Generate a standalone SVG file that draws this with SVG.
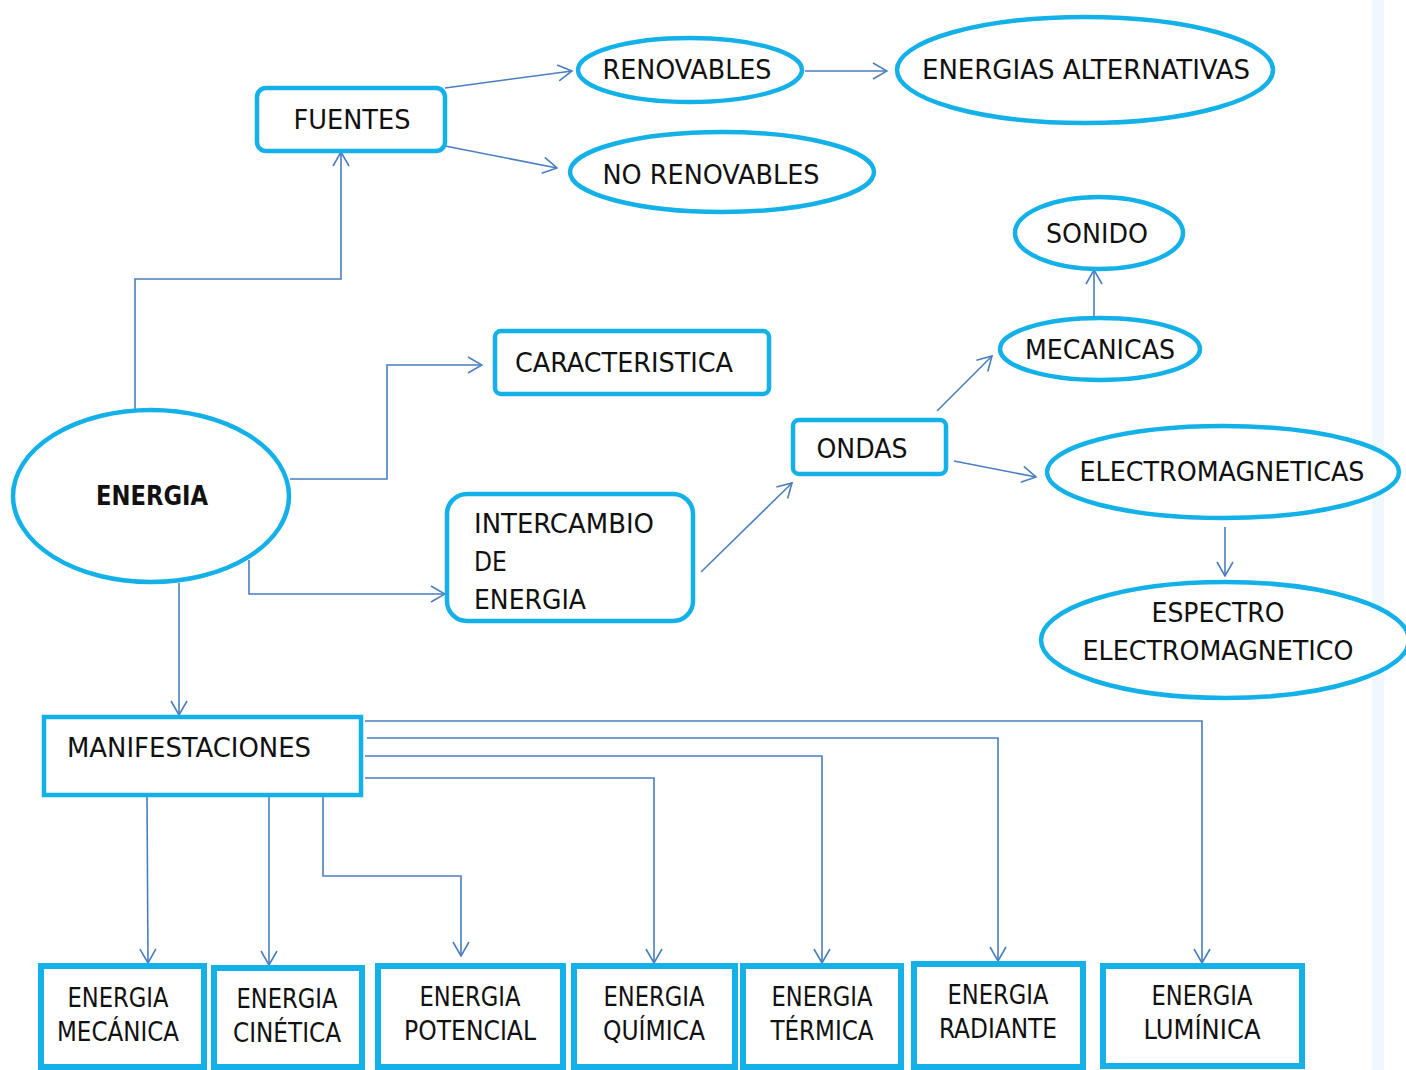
<svg xmlns="http://www.w3.org/2000/svg" width="1406" height="1070" viewBox="0 0 1406 1070">
<defs>
<style>
.n{fill:#fff;stroke:#13b1e7;stroke-width:4.5}
.b{fill:#fff;stroke:#13b1e7;stroke-width:6}
.t{font-family:"DejaVu Sans Condensed","DejaVu Sans",sans-serif;font-size:26px;fill:#111;font-stretch:condensed}
.c{fill:none;stroke:#4a7ebf;stroke-width:1.6}
</style>
<marker id="a" viewBox="0 0 16 18" markerWidth="16" markerHeight="18" refX="15" refY="9" orient="auto" markerUnits="userSpaceOnUse">
<path d="M1,1 L15,9 L1,17" fill="none" stroke="#4a7ebf" stroke-width="1.6"/>
</marker>
</defs>
<rect width="1406" height="1070" fill="#fff"/>
<rect x="1372" y="0" width="12" height="1070" fill="#f1f8fd"/>
<g id="connectors">
<path class="c" d="M135,410 V279 H341 V152" marker-end="url(#a)"/>
<path class="c" d="M445,88 L572,71" marker-end="url(#a)"/>
<path class="c" d="M445,146 L557,168" marker-end="url(#a)"/>
<path class="c" d="M805,71 L887,71" marker-end="url(#a)"/>
<path class="c" d="M290,479 H387 V365 H482" marker-end="url(#a)"/>
<path class="c" d="M249,560 V594 H445" marker-end="url(#a)"/>
<path class="c" d="M701,572 L792,483" marker-end="url(#a)"/>
<path class="c" d="M937,411 L992,356" marker-end="url(#a)"/>
<path class="c" d="M954,461 L1036,477" marker-end="url(#a)"/>
<path class="c" d="M1094,317 V270" marker-end="url(#a)"/>
<path class="c" d="M1225,527 V576" marker-end="url(#a)"/>
<path class="c" d="M179,583 V715" marker-end="url(#a)"/>
<path class="c" d="M147,797 L148,963" marker-end="url(#a)"/>
<path class="c" d="M269,795 V965" marker-end="url(#a)"/>
<path class="c" d="M323,795 V876 H461 V956" marker-end="url(#a)"/>
<path class="c" d="M365,778 H654 V963" marker-end="url(#a)"/>
<path class="c" d="M365,756 H822 V963" marker-end="url(#a)"/>
<path class="c" d="M367,738 H998 V961" marker-end="url(#a)"/>
<path class="c" d="M365,721 H1202 V963" marker-end="url(#a)"/>
</g>
<g id="fuentes"><rect class="n" x="257" y="88" width="188" height="63" rx="9"/><text class="t" x="352" y="129" text-anchor="middle" textLength="117" lengthAdjust="spacingAndGlyphs">FUENTES</text></g>
<g id="renovables"><ellipse class="n" cx="690" cy="70" rx="112" ry="32"/><text class="t" x="687" y="79" text-anchor="middle" textLength="169" lengthAdjust="spacingAndGlyphs">RENOVABLES</text></g>
<g id="alternativas"><ellipse class="n" cx="1085" cy="70" rx="188" ry="53"/><text class="t" x="1086" y="79" text-anchor="middle" textLength="328" lengthAdjust="spacingAndGlyphs">ENERGIAS ALTERNATIVAS</text></g>
<g id="norenovables"><ellipse class="n" cx="722" cy="172" rx="152" ry="40"/><text class="t" x="711" y="184" text-anchor="middle" textLength="217" lengthAdjust="spacingAndGlyphs">NO RENOVABLES</text></g>
<g id="sonido"><ellipse class="n" cx="1099" cy="233" rx="84" ry="36"/><text class="t" x="1097" y="243" text-anchor="middle" textLength="102" lengthAdjust="spacingAndGlyphs">SONIDO</text></g>
<g id="mecanicas"><ellipse class="n" cx="1100" cy="349" rx="100" ry="31"/><text class="t" x="1100" y="359" text-anchor="middle" textLength="150" lengthAdjust="spacingAndGlyphs">MECANICAS</text></g>
<g id="caracteristica"><rect class="n" x="495" y="331" width="274" height="63" rx="6"/><text class="t" x="624" y="372" text-anchor="middle" textLength="218" lengthAdjust="spacingAndGlyphs">CARACTERISTICA</text></g>
<g id="energia"><ellipse class="n" cx="151" cy="496" rx="138" ry="86"/><text class="t" x="152" y="505" text-anchor="middle" font-weight="bold" textLength="112" lengthAdjust="spacingAndGlyphs">ENERGIA</text></g>
<g id="ondas"><rect class="n" x="793" y="420" width="153" height="54" rx="6"/><text class="t" x="862" y="458" text-anchor="middle" textLength="91" lengthAdjust="spacingAndGlyphs">ONDAS</text></g>
<g id="electromagneticas"><ellipse class="n" cx="1223" cy="472" rx="176" ry="46"/><text class="t" x="1222" y="481" text-anchor="middle" textLength="285" lengthAdjust="spacingAndGlyphs">ELECTROMAGNETICAS</text></g>
<g id="intercambio"><rect class="n" x="447" y="494" width="246" height="127" rx="20"/><text class="t" x="474" y="533" textLength="180" lengthAdjust="spacingAndGlyphs">INTERCAMBIO</text><text class="t" x="474" y="571">DE</text><text class="t" x="474" y="609" textLength="112" lengthAdjust="spacingAndGlyphs">ENERGIA</text></g>
<g id="espectro"><ellipse class="n" cx="1225" cy="640" rx="184" ry="58"/><text class="t" x="1218" y="622" text-anchor="middle" textLength="133" lengthAdjust="spacingAndGlyphs">ESPECTRO</text><text class="t" x="1218" y="660" text-anchor="middle" textLength="271" lengthAdjust="spacingAndGlyphs">ELECTROMAGNETICO</text></g>
<g id="manifestaciones"><rect class="n" x="44" y="717" width="317" height="78"/><text class="t" x="189" y="757" text-anchor="middle" textLength="244" lengthAdjust="spacingAndGlyphs">MANIFESTACIONES</text></g>
<g id="mecanica"><rect class="b" x="41" y="966" width="163" height="101"/><text class="t" x="118" y="1007" text-anchor="middle" textLength="101" lengthAdjust="spacingAndGlyphs">ENERGIA</text><text class="t" x="118" y="1041" text-anchor="middle" textLength="122" lengthAdjust="spacingAndGlyphs">MECÁNICA</text></g>
<g id="cinetica"><rect class="b" x="214" y="968" width="148" height="99"/><text class="t" x="287" y="1008" text-anchor="middle" textLength="101" lengthAdjust="spacingAndGlyphs">ENERGIA</text><text class="t" x="287" y="1042" text-anchor="middle" textLength="108" lengthAdjust="spacingAndGlyphs">CINÉTICA</text></g>
<g id="potencial"><rect class="b" x="378" y="966" width="185" height="101"/><text class="t" x="470" y="1006" text-anchor="middle" textLength="101" lengthAdjust="spacingAndGlyphs">ENERGIA</text><text class="t" x="470" y="1040" text-anchor="middle" textLength="132" lengthAdjust="spacingAndGlyphs">POTENCIAL</text></g>
<g id="quimica"><rect class="b" x="574" y="966" width="161" height="101"/><text class="t" x="654" y="1006" text-anchor="middle" textLength="101" lengthAdjust="spacingAndGlyphs">ENERGIA</text><text class="t" x="654" y="1040" text-anchor="middle" textLength="102" lengthAdjust="spacingAndGlyphs">QUÍMICA</text></g>
<g id="termica"><rect class="b" x="743" y="966" width="158" height="101"/><text class="t" x="822" y="1006" text-anchor="middle" textLength="101" lengthAdjust="spacingAndGlyphs">ENERGIA</text><text class="t" x="822" y="1040" text-anchor="middle" textLength="103" lengthAdjust="spacingAndGlyphs">TÉRMICA</text></g>
<g id="radiante"><rect class="b" x="914" y="964" width="169" height="103"/><text class="t" x="998" y="1004" text-anchor="middle" textLength="101" lengthAdjust="spacingAndGlyphs">ENERGIA</text><text class="t" x="998" y="1038" text-anchor="middle" textLength="118" lengthAdjust="spacingAndGlyphs">RADIANTE</text></g>
<g id="luminica"><rect class="b" x="1103" y="966" width="199" height="100"/><text class="t" x="1202" y="1005" text-anchor="middle" textLength="101" lengthAdjust="spacingAndGlyphs">ENERGIA</text><text class="t" x="1202" y="1039" text-anchor="middle" textLength="117" lengthAdjust="spacingAndGlyphs">LUMÍNICA</text></g>
</svg>
